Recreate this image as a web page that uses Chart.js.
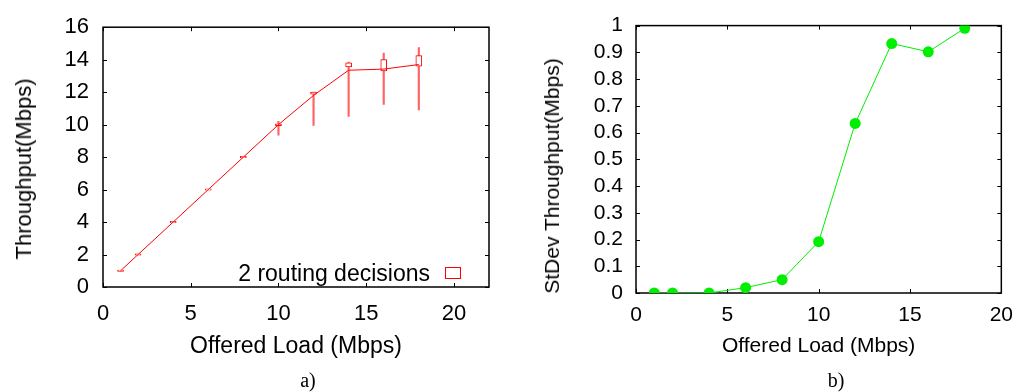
<!DOCTYPE html>
<html>
<head>
<meta charset="utf-8">
<script src="https://cdn.jsdelivr.net/npm/chart.js@4/dist/chart.umd.min.js"></script>
<style>
    body { margin: 0; background: #fff; }
    #page { position: relative; width: 1023px; height: 392px; overflow: hidden; font-family: "Liberation Sans", Arial, sans-serif; }
    canvas { position: absolute; top: 0; }
    .ytitle { position: absolute; white-space: nowrap; transform: translate(-50%, -50%) rotate(-90deg); color: #000; }
    .caption { position: absolute; transform: translate(-50%, -50%); font-family: "Liberation Serif", "Times New Roman", serif; font-size: 20px; }
    #legendA { position: absolute; left: 200px; top: 259px; width: 230px; text-align: right; font-size: 23px; line-height: 28px; }
    #legendBox { position: absolute; left: 445px; top: 267px; width: 14px; height: 10px; border: 1px solid #ff0000; background: #fff; }
</style>
</head>
<body>
<div id="page">
    <canvas id="chartA" width="500" height="392" style="left:0px"></canvas>
    <canvas id="chartB" width="503" height="392" style="left:520px"></canvas>
    <div class="ytitle" style="left:24px; top:169px; font-size:22px;">Throughput(Mbps)</div>
    <div class="ytitle" style="left:552px; top:176px; font-size:21px;">StDev Throughput(Mbps)</div>
    <div id="legendA">2 routing decisions</div>
    <div id="legendBox"></div>
    <div class="caption" style="left:308px; top:380px;">a)</div>
    <div class="caption" style="left:836px; top:380px;">b)</div>
</div>
<script>
// offered load (Mbps), same for both panels
const loads = [1, 2, 4, 6, 8, 10, 12, 14, 16, 18];

// panel a) throughput with box/whisker spread
const meanThroughput = [1, 2, 4, 6, 8, 10, 11.8, 13.35, 13.42, 13.7];
const whiskerLow  = [1, 2, 4, 6, 8, 9.35, 9.95, 10.5, 11.25, 10.9];
const whiskerHigh = [1, 2, 4, 6, 8, 10.2, 12.0, 13.85, 14.4, 14.75];
const boxLow  = [0.96, 1.96, 3.96, 5.96, 7.95, 9.93, 11.88, 13.55, 13.3, 13.6];
const boxHigh = [1.04, 2.04, 4.04, 6.04, 8.05, 10.05, 12.0, 13.8, 14.0, 14.25];

// panel b) standard deviation of throughput
const stdevThroughput = [0, 0, 0, 0.02, 0.05, 0.192, 0.634, 0.933, 0.902, 0.99];

const xTicksA = [0, 5, 10, 15, 20];
const yTicksA = [0, 2, 4, 6, 8, 10, 12, 14, 16];
const xTicksB = [0, 5, 10, 15, 20];
const yTicksB = [0, 0.1, 0.2, 0.3, 0.4, 0.5, 0.6, 0.7, 0.8, 0.9, 1];

Chart.defaults.color = '#000';
Chart.defaults.font.family = '"Liberation Sans", Arial, sans-serif';

function points(xs, ys) {
    return xs.map((x, i) => ({x: x, y: ys[i]}));
}

function ranges(xs, lo, hi) {
    return xs.map((x, i) => ({x: x, y: [lo[i], hi[i]]}));
}

function fixedTicks(values) {
    return (s) => { s.ticks = values.map(v => ({value: v})); };
}

// gnuplot style frame with tick marks pointing inwards on all four sides
const frameTicks = {
    id: 'frameTicks',
    beforeDatasetsDraw(chart) {
        const ctx = chart.ctx;
        const a = chart.chartArea;
        const len = 4;
        ctx.save();
        ctx.strokeStyle = '#000';
        ctx.lineWidth = 1;
        ctx.beginPath();
        chart.scales.x.ticks.forEach(t => {
            let px = Math.round(chart.scales.x.getPixelForValue(t.value)) + 0.5;
            ctx.moveTo(px, a.bottom); ctx.lineTo(px, a.bottom - len);
            ctx.moveTo(px, a.top); ctx.lineTo(px, a.top + len);
        });
        chart.scales.y.ticks.forEach(t => {
            let py = Math.round(chart.scales.y.getPixelForValue(t.value)) + 0.5;
            ctx.moveTo(a.left, py); ctx.lineTo(a.left + len, py);
            ctx.moveTo(a.right, py); ctx.lineTo(a.right - len, py);
        });
        ctx.stroke();
        ctx.lineWidth = 1.5;
        ctx.strokeRect(a.left, a.top, a.right - a.left, a.bottom - a.top);
        ctx.restore();
    }
};

new Chart(document.getElementById('chartA'), {
    type: 'line',
    data: {
        datasets: [
            {
                data: points(loads, meanThroughput),
                borderColor: '#ff0000',
                borderWidth: 1,
                pointRadius: 0,
                order: 0
            },
            {
                type: 'bar',
                data: ranges(loads, boxLow, boxHigh),
                backgroundColor: '#ffffff',
                borderColor: '#ff0000',
                borderWidth: 1,
                borderSkipped: false,
                barThickness: 6,
                grouped: false,
                order: 1
            },
            {
                type: 'bar',
                data: ranges(loads, whiskerLow, whiskerHigh),
                backgroundColor: 'rgba(255, 60, 60, 0.8)',
                borderWidth: 0,
                barThickness: 1.5,
                grouped: false,
                order: 2
            }
        ]
    },
    options: {
        responsive: false,
        animation: false,
        layout: {padding: {left: 0, top: 19, right: 11, bottom: 0}},
        plugins: {legend: {display: false}, tooltip: {enabled: false}},
        scales: {
            x: {
                type: 'linear',
                min: 0,
                max: 22,
                offset: false,
                grid: {display: false, drawTicks: false},
                border: {display: false},
                afterBuildTicks: fixedTicks(xTicksA),
                afterFit: (s) => { s.height = 105; },
                ticks: {padding: 14, autoSkip: false, font: {size: 22}},
                title: {display: true, text: 'Offered Load (Mbps)', font: {size: 23}, padding: {top: 0, bottom: 32}}
            },
            y: {
                min: 0,
                max: 16,
                grid: {display: false, drawTicks: false},
                border: {display: false},
                afterBuildTicks: fixedTicks(yTicksA),
                afterFit: (s) => { s.width = 103; },
                ticks: {padding: 14, autoSkip: false, font: {size: 22}}
            }
        }
    },
    plugins: [frameTicks]
});

new Chart(document.getElementById('chartB'), {
    type: 'line',
    data: {
        datasets: [{
            data: points(loads, stdevThroughput),
            borderColor: '#00ee00',
            backgroundColor: '#00ee00',
            borderWidth: 1,
            pointRadius: 5.5,
            pointBorderWidth: 0
        }]
    },
    options: {
        responsive: false,
        animation: false,
        layout: {padding: {left: 0, top: 23, right: 15, bottom: 0}},
        plugins: {legend: {display: false}, tooltip: {enabled: false}},
        scales: {
            x: {
                type: 'linear',
                min: 0,
                max: 20,
                grid: {display: false, drawTicks: false},
                border: {display: false},
                afterBuildTicks: fixedTicks(xTicksB),
                afterFit: (s) => { s.height = 99; },
                ticks: {padding: 10, autoSkip: false, font: {size: 21}},
                title: {display: true, text: 'Offered Load (Mbps)', font: {size: 21}, padding: {top: 0, bottom: 33}}
            },
            y: {
                min: 0,
                max: 1,
                grid: {display: false, drawTicks: false},
                border: {display: false},
                afterBuildTicks: fixedTicks(yTicksB),
                afterFit: (s) => { s.width = 116; },
                ticks: {
                    padding: 13,
                    autoSkip: false,
                    font: {size: 21},
                    callback: (v) => String(Math.round(v * 10) / 10)
                }
            }
        }
    },
    plugins: [frameTicks]
});
</script>
</body>
</html>
